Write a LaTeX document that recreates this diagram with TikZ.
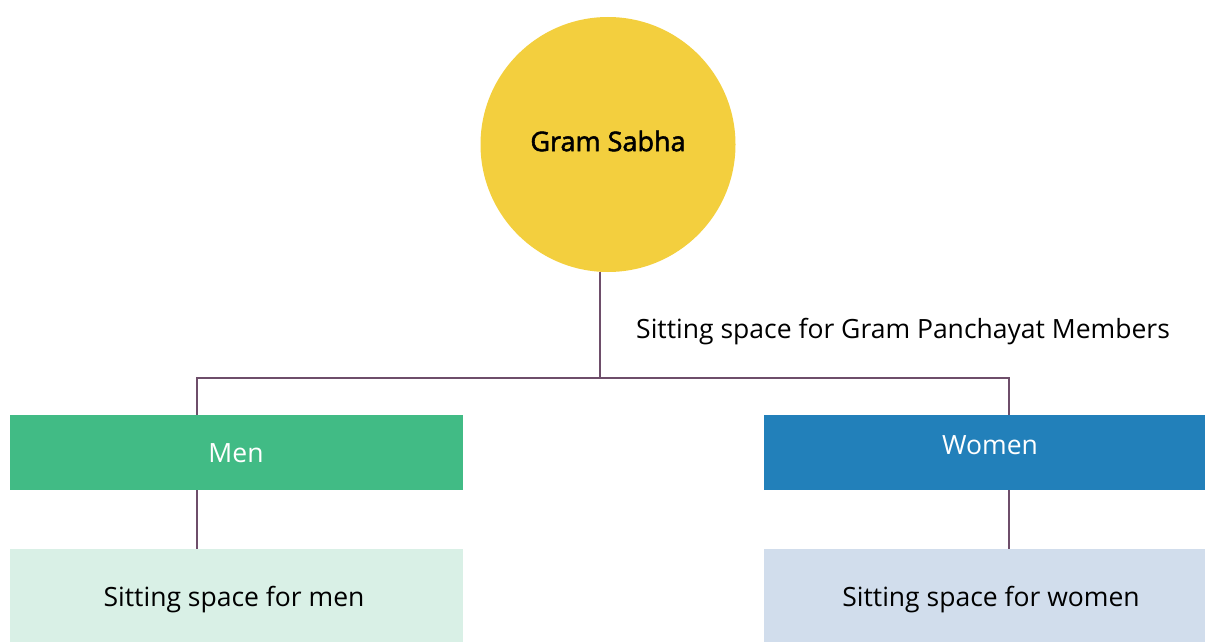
\documentclass[tikz,border=0pt]{standalone}
\usepackage{fontspec}
\setmainfont{Open Sans}
\newfontfamily\medfont[FakeBold=2]{Open Sans}
\begin{document}
\definecolor{sabha}{HTML}{F3CF3E}
\definecolor{mengreen}{HTML}{41BB85}
\definecolor{womenblue}{HTML}{2280BA}
\definecolor{menpale}{HTML}{D9F0E6}
\definecolor{womenpale}{HTML}{D1DDEC}
\definecolor{linkline}{HTML}{6E4E6A}
\begin{tikzpicture}[x=1pt,y=-1pt,
  box/.style={draw=none,rectangle,inner sep=0pt,minimum width=453pt,minimum height=75pt},
  seat/.style={draw=none,rectangle,inner sep=0pt,minimum width=453pt,minimum height=93pt},
  link/.style={draw=linkline,line width=1.4pt},
  txt/.style={font=\fontsize{26.5}{30}\selectfont,inner sep=0pt}]
\useasboundingbox (0,0) rectangle (1205,642);
% central circle
\node[circle,fill=sabha,minimum size=255pt,inner sep=0pt] (gs) at (608,144.5) {};
\node[txt,font=\medfont\fontsize{27}{30}\selectfont] (gstxt) at (608,141) {Gram Sabha};
% group boxes
\node[box,fill=mengreen] (men) at (236.5,452.5) {};
\node[txt,text=white] (mentxt) at (236,453) {Men};
\node[box,fill=womenblue,minimum width=441pt] (women) at (984.5,452.5) {};
\node[txt,text=white] (womentxt) at (990,445) {Women};
% seating boxes
\node[seat,fill=menpale] (menseat) at (236.5,595.5) {};
\node[txt] (menseattxt) at (234,600) {Sitting space for men};
\node[seat,fill=womenpale,minimum width=441pt] (womenseat) at (984.5,595.5) {};
\node[txt] (womenseattxt) at (991,600) {Sitting space for women};
% panchayat label
\node[txt,anchor=west] (gp) at (636,332) {Sitting space for Gram Panchayat Members};
% connectors
\coordinate (j) at (600,378);
\coordinate (jl) at (197,378);
\coordinate (jr) at (1009,378);
\draw[link] (gs.south -| j) -- (j);
\draw[link] (men.north -| jl) -- (jl) -- (jr) -- (women.north -| jr);
\draw[link] (men.south -| jl) -- (menseat.north -| jl);
\draw[link] (women.south -| jr) -- (womenseat.north -| jr);
\end{tikzpicture}
\end{document}
